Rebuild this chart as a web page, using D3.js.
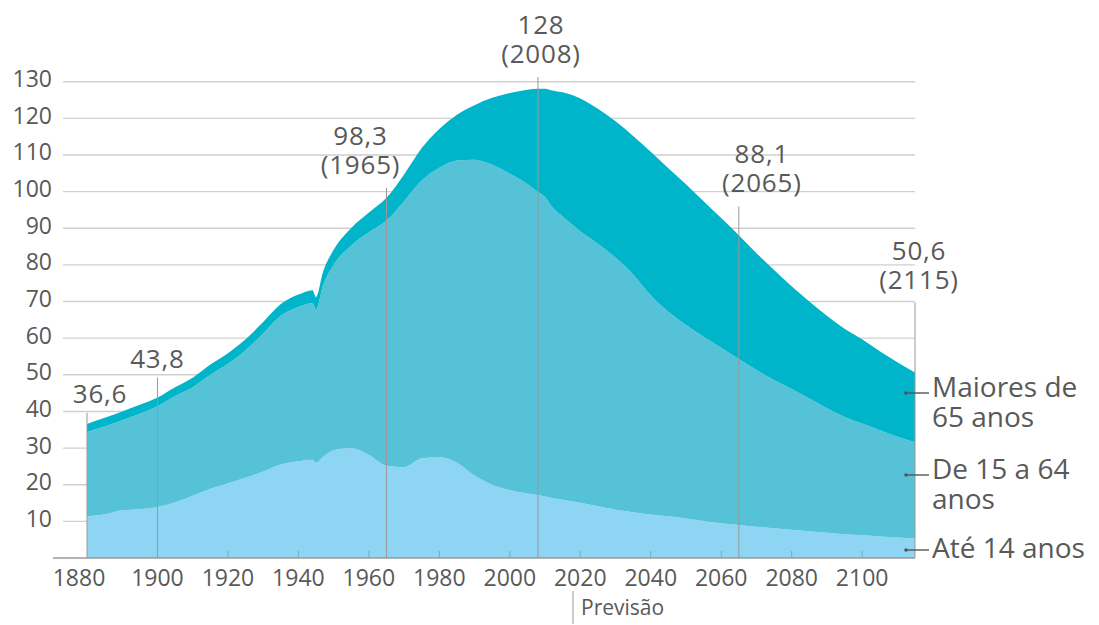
<!DOCTYPE html>
<html>
<head>
<meta charset="utf-8">
<script src="https://cdn.jsdelivr.net/npm/d3@7"></script>
<style>
  html, body { margin: 0; padding: 0; background: #fff; }
  svg text { font-family: "Open Sans", "Noto Sans", sans-serif; fill: #595959; }
</style>
</head>
<body>
<div id="chart"></div>
<script>
// População do Japão (milhões) por faixa etária
const years = [1880, 1885, 1890, 1895, 1900, 1905, 1910, 1915, 1920, 1925, 1930, 1935, 1940, 1944, 1945, 1947,
  1950, 1955, 1960, 1965, 1970, 1975, 1980, 1985, 1990, 1995, 2000, 2005, 2008, 2010, 2012, 2015,
  2020, 2025, 2030, 2035, 2040, 2045, 2050, 2055, 2060, 2065, 2070, 2075, 2080, 2085, 2090, 2095,
  2100, 2105, 2110, 2115];
const ate14 = [11.4, 11.9, 13.0, 13.3, 13.9, 15.2, 17.0, 18.9, 20.4, 21.9, 23.6, 25.5, 26.4, 26.8, 26.0, 27.6,
  29.4, 30.0, 28.1, 25.2, 24.8, 27.2, 27.5, 26.0, 22.5, 20.0, 18.5, 17.6, 17.2, 16.8, 16.4, 15.9,
  15.1, 14.1, 13.2, 12.5, 11.9, 11.4, 10.8, 10.1, 9.5, 9.0, 8.5, 8.1, 7.7, 7.3, 6.9, 6.5,
  6.2, 5.9, 5.6, 5.4];
const de15a64 = [23.0, 24.0, 24.6, 26.1, 27.5, 29.0, 29.6, 31.1, 32.6, 34.8, 37.7, 40.6, 42.1, 42.8, 41.8, 46.8,
  50.6, 55.3, 60.8, 66.9, 72.6, 75.8, 79.0, 82.5, 86.2, 87.3, 86.4, 84.5, 82.7, 81.7, 79.4, 77.3,
  74.1, 71.7, 68.8, 64.9, 59.8, 55.8, 52.8, 50.3, 47.9, 45.3, 42.8, 40.5, 38.4, 36.2, 34.0, 32.0,
  30.5, 29.0, 27.5, 26.2];
const maiores65 = [2.2, 2.4, 2.4, 2.4, 2.4, 2.4, 2.6, 2.8, 2.9, 3.0, 3.1, 3.2, 3.4, 3.5, 3.4, 3.7,
  4.1, 4.8, 5.4, 6.2, 7.3, 8.9, 10.6, 12.5, 14.9, 18.3, 22.0, 25.7, 28.2, 29.6, 31.8, 33.9,
  36.2, 36.8, 37.2, 37.8, 39.2, 39.2, 38.4, 37.0, 35.4, 33.8, 31.9, 30.0, 28.1, 26.5, 25.2, 24.1,
  23.0, 21.5, 20.3, 19.0];

const yTicks = [10, 20, 30, 40, 50, 60, 70, 80, 90, 100, 110, 120, 130];
const xTicks = [1880, 1900, 1920, 1940, 1960, 1980, 2000, 2020, 2040, 2060, 2080, 2100];

const annotYears = [1880, 1900, 1965, 2008, 2065, 2115];
const annotValues = ['36,6', '43,8', '98,3', '128', '88,1', '50,6'];

const seriesKeys = ['ate14', 'de15a64', 'maiores65'];
const seriesLabels = [['Até 14 anos'], ['De 15 a 64', 'anos'], ['Maiores de', '65 anos']];
const seriesColors = ['#8ed5f4', '#55c2d7', '#00b5c9'];

const width = 1099, height = 625;

const svg = d3.select('#chart').append('svg')
  .attr('width', width)
  .attr('height', height);

const x = d3.scaleLinear().domain([1880, 2115]).range([87, 915]);
const y = d3.scaleLinear().domain([0, 130]).range([558, 81.7]);

// Grid lines
svg.append('g')
  .selectAll('line')
  .data(yTicks)
  .join('line')
  .attr('x1', 63)
  .attr('x2', x(2115))
  .attr('y1', d => y(d))
  .attr('y2', d => y(d))
  .attr('stroke', '#cfcfcf')
  .attr('stroke-width', 1.4);

// Y labels
svg.append('g')
  .selectAll('text')
  .data(yTicks)
  .join('text')
  .attr('x', 52)
  .attr('y', d => y(d) + 5.5)
  .attr('text-anchor', 'end')
  .attr('font-size', 23)
  .text(d => d);

// Stacked areas
const table = years.map((yr, i) => ({
  year: yr, ate14: ate14[i], de15a64: de15a64[i], maiores65: maiores65[i]
}));
const layers = d3.stack().keys(seriesKeys)(table);

const area = d3.area()
  .x(d => x(d.data.year))
  .y0(d => y(d[0]))
  .y1(d => y(d[1]))
  .curve(d3.curveMonotoneX);

svg.append('g')
  .selectAll('path')
  .data(layers)
  .join('path')
  .attr('d', area)
  .attr('fill', (d, i) => seriesColors[i]);

// Bottom axis line
svg.append('line')
  .attr('x1', 53)
  .attr('x2', x(2115))
  .attr('y1', y(0))
  .attr('y2', y(0))
  .attr('stroke', '#9a9a9a')
  .attr('stroke-width', 1.4);

// small ticks inside the area
svg.append('g')
  .selectAll('line')
  .data(xTicks.filter(t => t > 1900))
  .join('line')
  .attr('x1', d => x(d))
  .attr('x2', d => x(d))
  .attr('y1', y(0))
  .attr('y2', y(0) - 7)
  .attr('stroke', '#7aa9bd')
  .attr('stroke-width', 1);

// X labels
svg.append('g')
  .selectAll('text')
  .data(xTicks)
  .join('text')
  .attr('x', (d, i) => x(d) - (i === 0 ? 8 : 0))
  .attr('y', 586)
  .attr('text-anchor', 'middle')
  .attr('font-size', 23)
  .text(d => d);

// Previsão marker
svg.append('line')
  .attr('x1', 573).attr('x2', 573)
  .attr('y1', 591).attr('y2', 624)
  .attr('stroke', '#bbb')
  .attr('stroke-width', 1.5);
svg.append('text')
  .attr('x', 581)
  .attr('y', 615)
  .attr('font-size', 21)
  .text('Previsão');

// Annotations: label offset [dx, rise above value]
const labelPos = {
  1880: [13, 21], 1900: [0, 30], 1965: [-26, 24], 2008: [3, 26], 2065: [23, 43], 2115: [4, 84]
};

annotYears.forEach((yr, i) => {
  const yVal = y(parseFloat(annotValues[i].replace(',', '.')));
  const [dx, rise] = labelPos[yr];
  const base = yVal - rise;
  const twoLines = yr > 1900;

  svg.append('line')
    .attr('x1', x(yr)).attr('x2', x(yr))
    .attr('y1', base + (twoLines ? 14 : 10))
    .attr('y2', y(0))
    .attr('stroke', '#999')
    .attr('stroke-width', 1);

  const g = svg.append('g')
    .attr('text-anchor', 'middle')
    .attr('font-size', 26)
    .attr('letter-spacing', 0.8);
  if (twoLines) {
    g.append('text').attr('x', x(yr) + dx).attr('y', base - 29).text(annotValues[i]);
    g.append('text').attr('x', x(yr) + dx).attr('y', base).text('(' + yr + ')');
  } else {
    g.append('text').attr('x', x(yr) + dx).attr('y', base).text(annotValues[i]);
  }
});

// Legend on the right
const legendY = [550, 475, 393];
seriesLabels.forEach((lines, i) => {
  const ly = legendY[i];
  svg.append('circle')
    .attr('cx', 906).attr('cy', ly).attr('r', 1.8)
    .attr('fill', '#555');
  svg.append('line')
    .attr('x1', 906).attr('x2', 929)
    .attr('y1', ly).attr('y2', ly)
    .attr('stroke', '#555')
    .attr('stroke-width', 1.4);
  lines.forEach((s, j) => {
    svg.append('text')
      .attr('font-size', 28)
      .attr('x', 932)
      .attr('y', ly + 4 + j * 30 + (i === 0 ? 4 : 0))
      .text(s);
  });
});
</script>
</body>
</html>
